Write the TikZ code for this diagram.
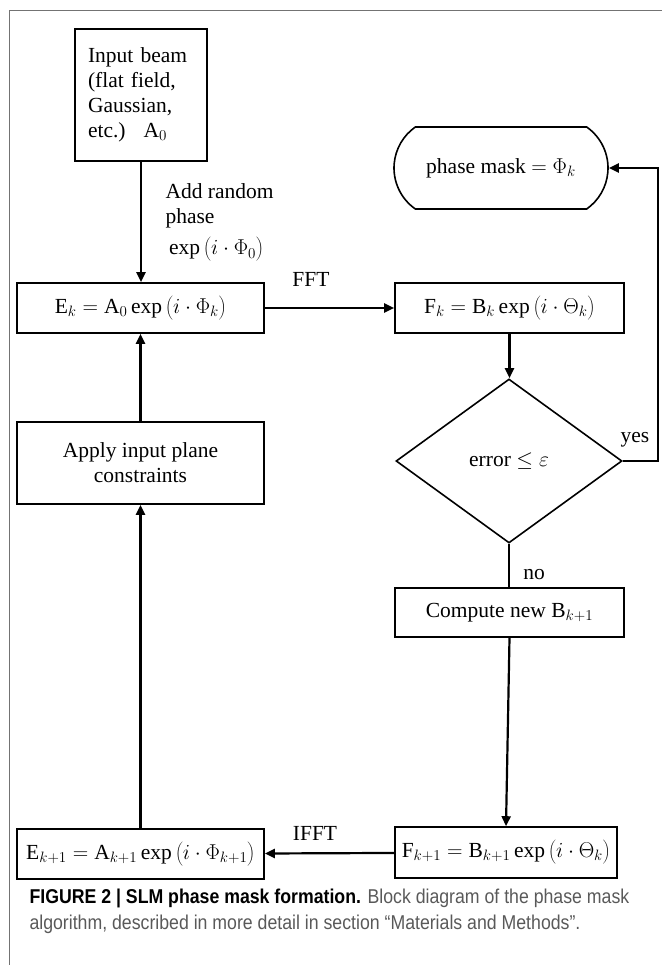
\documentclass[tikz,border=0pt]{standalone}
\usepackage{fix-cm}
\usepackage{fontspec}
\setmainfont{Liberation Serif}
\newfontfamily\capfont[FakeStretch=0.885,Ligatures=TeX]{Liberation Sans}
\usetikzlibrary{arrows.meta,shapes.geometric,shapes.misc}
\definecolor{capgray}{gray}{0.35}
\definecolor{framegray}{gray}{0.45}
\newcommand{\fexp}[1]{\exp\left(\rule[-7pt]{0pt}{22pt}#1\right)}

\begin{document}
\begin{tikzpicture}[x=1pt,y=-1pt,
    every node/.style={font=\fontsize{21.5}{25}\selectfont},
    block/.style={draw,line width=1.6pt,inner sep=0pt},
    flow/.style={line width=2.2pt,-{Triangle[length=10pt,width=9pt]}}]
  \useasboundingbox (0,0) rectangle (662,965);
  \draw[framegray,line width=1pt] (9,965) -- (9,11) -- (662,11);
  \node[block,minimum width=132,minimum height=132,text width=106,align=left] (beam) at (141,95)
    {Input beam\\(flat field,\\Gaussian,\\etc.)~ $\mathrm{A}_0$};
  \node[block,minimum width=247,minimum height=50] (ek) at (140.5,308)
    {$\mathrm{E}_k=\mathrm{A}_0\fexp{i\cdot\Phi_k}$};
  \node[block,minimum width=229,minimum height=50] (fk) at (509.5,308)
    {$\mathrm{F}_k=\mathrm{B}_k\fexp{i\cdot\Theta_k}$};
  \node[block,rounded rectangle,rounded rectangle arc length=110,minimum width=214,minimum height=82] (mask) at (501,168)
    {phase mask $=\Phi_k$};
  \node[block,diamond,aspect=1.38,minimum width=226,minimum height=164] (test) at (509,461)
    {error $\leq\varepsilon$};
  \node[block,minimum width=229,minimum height=49] (newb) at (509.5,612.5)
    {Compute new $\mathrm{B}_{k+1}$};
  \node[block,minimum width=247,minimum height=82,align=center] (apply) at (140.5,463)
    {Apply input plane\\constraints};
  \node[block,minimum width=222,minimum height=51] (fk1) at (506,852.5)
    {$\mathrm{F}_{k+1}=\mathrm{B}_{k+1}\fexp{i\cdot\Theta_k}$};
  \node[block,minimum width=247,minimum height=50] (ek1) at (140.5,854)
    {$\mathrm{E}_{k+1}=\mathrm{A}_{k+1}\fexp{i\cdot\Phi_{k+1}}$};
  \node[anchor=west,align=left] (rand) at (162,223)
    {Add random\\phase\\[6pt]\,$\fexp{i\cdot\Phi_0}$};
  \node (fft) at (311,279) {FFT};
  \node (ifft) at (315,833) {IFFT};
  \node (yes) at (635,440) {yes};
  \node (no) at (534,575) {no};
  \draw[flow] (beam.south) -- (beam.south |- ek.north);
  \draw[flow] (ek) -- (fk);
  \draw[flow] (fk.south) -- (fk.south |- test.north);
  \draw[line width=2.2pt] (test.south) -- (test.south |- newb.north);
  \draw[flow] (newb.south) -- (fk1.north);
  \draw[flow] (fk1) -- (ek1);
  \draw[flow] (ek1) -- (apply);
  \draw[flow] (apply) -- (ek);
  \draw[flow] (test.east) -- ++(35,0) |- (mask.east);
  \node[anchor=base west,align=left,text=capgray,font=\capfont\fontsize{20}{26}\selectfont] (cap) at (26,929)
    {\textbf{\color{black}FIGURE 2 | SLM phase mask formation.} Block diagram of the phase mask\\
     algorithm, described in more detail in section ``Materials and Methods''.};
\end{tikzpicture}
\end{document}
